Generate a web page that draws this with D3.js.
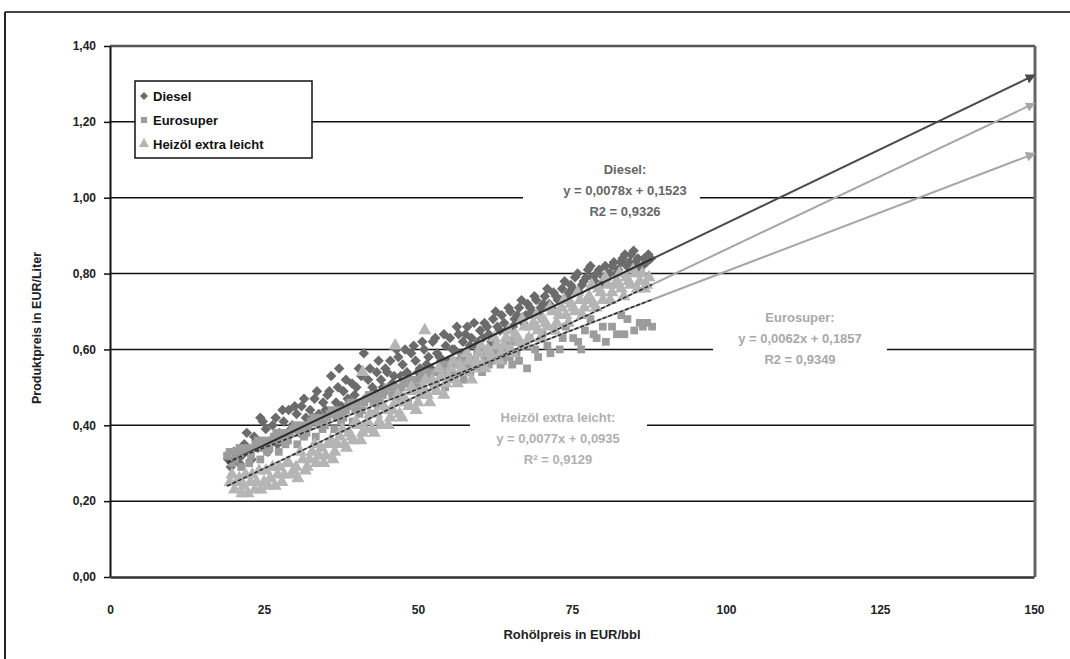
<!DOCTYPE html>
<html>
<head>
<meta charset="utf-8">
<script src="https://cdn.jsdelivr.net/npm/d3@7"></script>
<style>
  body { margin: 0; background: #fff; }
  svg { font-family: "Liberation Sans", Arial, sans-serif; }
</style>
</head>
<body>
<div id="chart"></div>
<script>
// data: [crude price EUR/bbl, product price EUR/litre]
var dieselPoints = [
  [19.2,0.31],[20.1,0.33],[21.0,0.30],[21.8,0.35],[22.5,0.33],[23.4,0.37],[24.0,0.34],[24.8,0.41],
  [25.3,0.39],[26.1,0.36],[26.9,0.42],[27.5,0.38],[28.2,0.41],[29.0,0.44],[29.6,0.40],[30.3,0.43],
  [31.1,0.45],[31.8,0.42],[32.5,0.44],[33.2,0.47],[33.9,0.43],[34.6,0.46],[35.3,0.48],[35.9,0.53],
  [36.7,0.46],[37.2,0.55],[37.9,0.49],[38.6,0.47],[39.3,0.51],[40.0,0.50],[40.8,0.53],[41.2,0.59],
  [41.9,0.52],[42.6,0.50],[43.3,0.54],[44.0,0.52],[44.7,0.55],[45.5,0.57],[46.1,0.53],[46.8,0.58],
  [47.5,0.56],[48.2,0.54],[48.9,0.59],[49.6,0.57],[50.3,0.55],[51.0,0.60],[51.7,0.58],[52.4,0.62],
  [53.1,0.59],[53.8,0.57],[54.5,0.61],[55.2,0.63],[55.9,0.60],[56.6,0.64],[57.3,0.62],[58.0,0.66],
  [58.7,0.63],[59.4,0.61],[60.1,0.65],[60.8,0.67],[61.5,0.64],[62.2,0.68],[62.9,0.66],[63.6,0.69],
  [64.3,0.65],[65.0,0.70],[65.7,0.68],[66.4,0.71],[67.1,0.67],[67.8,0.72],[68.5,0.70],[69.2,0.73],
  [69.9,0.71],[70.6,0.74],[71.3,0.72],[72.0,0.75],[72.7,0.73],[73.4,0.76],[74.1,0.74],[74.8,0.77],
  [75.5,0.79],[76.2,0.75],[76.9,0.78],[77.6,0.81],[78.3,0.79],[79.0,0.80],[79.7,0.77],[80.4,0.82],
  [81.1,0.80],[81.8,0.83],[82.5,0.81],[83.2,0.84],[83.9,0.82],[84.6,0.85],[85.3,0.83],[86.0,0.81],
  [86.7,0.84],[87.4,0.85],
  [19.6,0.29],[20.5,0.31],[21.4,0.32],[22.2,0.38],[23.0,0.31],[23.8,0.36],[24.4,0.42],[25.6,0.33],
  [26.4,0.40],[27.2,0.35],[28.0,0.44],[28.7,0.37],[29.4,0.39],[30.0,0.45],[30.8,0.38],[31.5,0.47],
  [32.2,0.40],[32.9,0.42],[33.6,0.49],[34.3,0.41],[35.0,0.44],[35.6,0.49],[36.3,0.43],[37.0,0.50],
  [37.6,0.45],[38.3,0.52],[39.0,0.46],[39.7,0.48],[40.4,0.55],[41.5,0.47],[42.2,0.55],[42.9,0.49],
  [43.6,0.57],[44.3,0.50],[45.0,0.54],[45.8,0.51],[46.5,0.60],[47.2,0.53],[47.9,0.60],[48.6,0.52],
  [49.3,0.61],[50.0,0.54],[50.7,0.62],[51.4,0.56],[52.1,0.55],[52.8,0.63],[53.5,0.58],[54.2,0.64],
  [54.9,0.57],[55.6,0.60],[56.3,0.66],[57.0,0.59],[57.7,0.64],[58.4,0.61],[59.1,0.67],[59.8,0.62],
  [60.5,0.63],[61.2,0.66],[61.9,0.62],[62.6,0.70],[63.3,0.65],[64.0,0.67],[64.7,0.71],[65.4,0.66],
  [66.1,0.69],[66.8,0.73],[67.5,0.69],[68.2,0.71],[68.9,0.74],[69.6,0.69],[70.3,0.72],[71.0,0.76],
  [71.7,0.71],[72.4,0.74],[73.1,0.73],[73.8,0.78],[74.5,0.75],[75.2,0.76],[75.9,0.80],[76.6,0.77],
  [77.3,0.79],[78.0,0.82],[78.7,0.78],[79.4,0.81],[80.1,0.79],[80.8,0.80],[81.5,0.82],[82.2,0.80],
  [82.9,0.83],[83.6,0.85],[84.3,0.83],[85.0,0.86],[85.7,0.84],[86.4,0.82],[87.1,0.83],[87.8,0.84]
];

var eurosuperPoints = [
  [19.0,0.32],[19.8,0.30],[20.6,0.33],[21.3,0.29],[22.1,0.34],[22.9,0.32],[23.6,0.35],[24.4,0.31],
  [25.1,0.36],[25.9,0.34],[26.6,0.37],[27.4,0.33],[28.1,0.38],[28.9,0.36],[29.6,0.39],[30.4,0.35],
  [31.1,0.40],[31.9,0.38],[32.6,0.41],[33.4,0.37],[34.1,0.42],[34.9,0.40],[35.6,0.43],[36.4,0.39],
  [37.1,0.44],[37.9,0.42],[38.6,0.45],[39.4,0.41],[40.1,0.46],[40.9,0.44],[41.6,0.47],[42.4,0.43],
  [43.1,0.48],[43.9,0.46],[44.6,0.49],[45.4,0.44],[46.1,0.50],[46.9,0.48],[47.6,0.51],[48.4,0.46],
  [49.1,0.52],[49.9,0.50],[50.6,0.53],[51.4,0.48],[52.1,0.54],[52.9,0.51],[53.6,0.55],[54.4,0.50],
  [55.1,0.56],[55.9,0.53],[56.6,0.57],[57.4,0.52],[58.1,0.58],[58.9,0.55],[59.6,0.59],[60.4,0.54],
  [61.1,0.60],[61.9,0.57],[62.6,0.61],[63.4,0.56],[64.1,0.60],[64.9,0.58],[65.6,0.62],[66.4,0.57],
  [67.7,0.55],[68.1,0.63],[69.0,0.60],[70.2,0.64],[71.0,0.61],[72.1,0.65],[73.0,0.60],[74.0,0.66],
  [75.2,0.63],[76.0,0.62],[77.1,0.65],[78.0,0.68],[79.0,0.63],[80.0,0.66],[81.5,0.66],[82.3,0.64],
  [83.0,0.69],[84.0,0.68],[85.1,0.65],[86.0,0.67],[87.2,0.67],[88.0,0.66],
  [19.4,0.33],[20.3,0.31],[21.0,0.34],[21.8,0.33],[22.6,0.30],[23.3,0.34],[24.0,0.36],[24.8,0.34],
  [25.5,0.33],[26.3,0.36],[27.0,0.38],[27.8,0.36],[28.5,0.35],[29.3,0.38],[30.0,0.40],[30.8,0.38],
  [31.5,0.37],[32.3,0.40],[33.0,0.42],[33.8,0.40],[34.5,0.39],[35.3,0.42],[36.0,0.44],[36.8,0.42],
  [37.5,0.41],[38.3,0.44],[39.0,0.46],[39.8,0.44],[40.5,0.43],[41.3,0.46],[42.0,0.48],[42.8,0.46],
  [43.5,0.45],[44.3,0.48],[45.0,0.50],[45.8,0.48],[46.5,0.47],[47.3,0.50],[48.0,0.52],[48.8,0.50],
  [49.5,0.49],[50.3,0.52],[51.0,0.54],[51.8,0.52],[52.5,0.51],[53.3,0.54],[54.0,0.56],[54.8,0.54],
  [55.5,0.53],[56.3,0.56],[57.0,0.58],[57.8,0.56],[58.5,0.54],[59.3,0.57],[60.0,0.59],[60.8,0.58],
  [61.5,0.56],[62.3,0.59],[63.0,0.60],[63.8,0.57],[64.5,0.62],[65.3,0.56],[66.0,0.59],[66.8,0.61],
  [69.5,0.58],[71.5,0.59],[73.5,0.63],[76.5,0.60],[78.5,0.64],[80.5,0.62],[83.5,0.64],[86.5,0.66]
];

var heizoelPoints = [
  [19.5,0.25],[20.2,0.23],[21.0,0.26],[21.7,0.24],[22.4,0.22],[23.1,0.27],[23.8,0.25],[24.5,0.23],
  [25.3,0.28],[26.0,0.26],[26.8,0.24],[27.5,0.29],[28.3,0.27],[29.0,0.30],[29.8,0.28],[30.5,0.26],
  [31.3,0.31],[32.0,0.29],[32.8,0.33],[33.5,0.30],[34.3,0.34],[35.0,0.32],[35.8,0.36],[36.5,0.33],
  [37.3,0.37],[38.0,0.35],[38.8,0.38],[39.5,0.36],[40.3,0.40],[41.0,0.54],[41.0,0.38],[41.8,0.41],
  [42.5,0.39],[43.3,0.43],[44.0,0.40],[44.8,0.44],[45.5,0.42],[46.3,0.61],[46.3,0.46],[47.0,0.43],
  [47.8,0.47],[48.5,0.45],[49.3,0.49],[50.0,0.46],[50.8,0.50],[51.1,0.65],[51.5,0.48],[52.3,0.52],
  [53.0,0.49],[53.8,0.53],[54.5,0.51],[55.3,0.55],[56.0,0.52],[56.8,0.56],[57.5,0.54],[58.3,0.57],
  [59.0,0.55],[59.8,0.59],[60.5,0.56],[61.3,0.60],[62.0,0.58],[62.8,0.61],[63.5,0.59],[64.3,0.63],
  [65.0,0.60],[65.8,0.64],[66.5,0.62],[67.3,0.66],[68.0,0.63],[68.8,0.67],[69.5,0.65],[70.3,0.68],
  [71.0,0.66],[71.8,0.70],[72.5,0.67],[73.3,0.71],[74.0,0.69],[74.8,0.72],[75.5,0.70],[76.3,0.73],
  [77.0,0.71],[77.8,0.74],[78.5,0.72],[79.3,0.76],[80.0,0.73],[80.8,0.77],[81.5,0.75],[82.3,0.78],
  [83.0,0.76],[83.8,0.79],[84.5,0.77],[85.3,0.80],[86.0,0.78],[86.8,0.76],[87.5,0.79],
  [19.8,0.27],[20.6,0.25],[21.4,0.22],[22.0,0.27],[22.8,0.25],[23.5,0.23],[24.2,0.28],[25.0,0.25],
  [25.7,0.24],[26.4,0.29],[27.2,0.27],[27.9,0.25],[28.7,0.30],[29.4,0.27],[30.2,0.29],[30.9,0.33],
  [31.7,0.28],[32.4,0.31],[33.2,0.35],[33.9,0.32],[34.7,0.30],[35.4,0.35],[36.2,0.31],[36.9,0.35],
  [37.7,0.39],[38.4,0.34],[39.2,0.37],[39.9,0.41],[40.7,0.36],[41.4,0.39],[42.2,0.43],[42.9,0.38],
  [43.7,0.41],[44.4,0.45],[45.2,0.40],[45.9,0.44],[46.7,0.48],[47.4,0.42],[48.2,0.46],[48.9,0.50],
  [49.7,0.44],[50.4,0.48],[51.2,0.52],[51.9,0.46],[52.7,0.50],[53.4,0.55],[54.2,0.48],[54.9,0.53],
  [55.7,0.57],[56.4,0.51],[57.2,0.55],[57.9,0.59],[58.7,0.52],[59.4,0.57],[60.2,0.61],[60.9,0.55],
  [61.7,0.59],[62.4,0.63],[63.2,0.57],[63.9,0.61],[64.7,0.65],[65.4,0.59],[66.2,0.63],[66.9,0.68],
  [67.7,0.61],[68.4,0.66],[69.2,0.69],[69.9,0.63],[70.7,0.67],[71.4,0.71],[72.2,0.65],[72.9,0.69],
  [73.7,0.73],[74.4,0.67],[75.2,0.71],[75.9,0.75],[76.7,0.69],[77.4,0.73],[78.2,0.77],[78.9,0.71],
  [79.7,0.75],[80.4,0.79],[81.2,0.73],[81.9,0.77],[82.7,0.80],[83.4,0.74],[84.2,0.78],[84.9,0.81],
  [85.6,0.76],[86.4,0.80],[87.1,0.77]
];

// trendlines as given on the chart: slope, intercept
var seriesNames = ["Diesel", "Eurosuper", "Heizöl extra leicht"];
var trendSlopes = [0.0078, 0.0062, 0.0077];
var trendIntercepts = [0.1523, 0.1857, 0.0935];
var trendLabels = [
  ["Diesel:", "y = 0,0078x + 0,1523", "R2 = 0,9326"],
  ["Eurosuper:", "y = 0,0062x + 0,1857", "R2 = 0,9349"],
  ["Heizöl extra leicht:", "y = 0,0077x + 0,0935", "R² = 0,9129"]
];
var xTicks = [0, 25, 50, 75, 100, 125, 150];
var yTicks = [0, 0.2, 0.4, 0.6, 0.8, 1.0, 1.2, 1.4];

var svgWidth = 1070;
var svgHeight = 659;

var svg = d3.select("#chart")
    .append("svg")
    .attr("width", svgWidth)
    .attr("height", svgHeight);

var x = d3.scaleLinear().domain([0, 150]).range([110, 1034]);
var y = d3.scaleLinear().domain([0, 1.4]).range([577, 46]);

var commaFmt = function (v) { return d3.format(".2f")(v).replace(".", ","); };

// outer page frame
svg.append("line").attr("x1", 5).attr("x2", 1070).attr("y1", 12).attr("y2", 12)
    .attr("stroke", "#444").attr("stroke-width", 2);
svg.append("line").attr("x1", 5).attr("x2", 5).attr("y1", 12).attr("y2", 659)
    .attr("stroke", "#222").attr("stroke-width", 2);

// arrow markers
var defs = svg.append("defs");
var lineColors = ["#4a4a4a", "#a6a6a6", "#a6a6a6"];
lineColors.forEach(function (c, i) {
    defs.append("marker")
        .attr("id", "arrow" + i)
        .attr("viewBox", "0 0 10 10")
        .attr("refX", 8).attr("refY", 5)
        .attr("markerWidth", 5).attr("markerHeight", 5)
        .attr("orient", "auto")
        .append("path")
        .attr("d", "M0,0 L10,5 L0,10 z")
        .attr("fill", c);
});

// gridlines
svg.append("g")
    .selectAll("line")
    .data(yTicks.filter(function (d) { return d > 0 && d < 1.4; }))
    .enter()
    .append("line")
    .attr("x1", x(0)).attr("x2", x(150))
    .attr("y1", function (d) { return y(d); })
    .attr("y2", function (d) { return y(d); })
    .attr("stroke", "#111").attr("stroke-width", 1.5);

// plot border top / right
svg.append("line").attr("x1", x(0)).attr("x2", x(150) + 1).attr("y1", y(1.4)).attr("y2", y(1.4))
    .attr("stroke", "#555").attr("stroke-width", 2.5);
svg.append("line").attr("x1", x(150) + 1).attr("x2", x(150) + 1).attr("y1", y(1.4)).attr("y2", y(0))
    .attr("stroke", "#666").attr("stroke-width", 3);

// scatter points (diesel diamond = square turned 45deg)
var sym = [d3.symbolSquare, d3.symbolSquare, d3.symbolTriangle];
var symRot = [45, 0, 0];
var symSize = [55, 60, 75];
var pointColors = ["#6b6b6b", "#9c9c9c", "#b5b5b5"];
var allPoints = [dieselPoints, eurosuperPoints, heizoelPoints];

allPoints.forEach(function (pts, i) {
    svg.append("g")
        .selectAll("path")
        .data(pts)
        .enter()
        .append("path")
        .attr("d", d3.symbol().type(sym[i]).size(symSize[i]))
        .attr("transform", function (d) {
            return "translate(" + x(d[0]) + "," + y(d[1]) + ") rotate(" + symRot[i] + ")";
        })
        .attr("fill", pointColors[i]);
});

// trendlines: forecast to 150 with arrow, dark part over the data range
var trendLine = d3.line()
    .x(function (d) { return x(d[0]); })
    .y(function (d) { return y(d[1]); });

[0, 2, 1].forEach(function (i) {
    var f = function (v) { return trendSlopes[i] * v + trendIntercepts[i]; };
    svg.append("path")
        .attr("d", trendLine([[19, f(19)], [150, f(150)]]))
        .attr("fill", "none")
        .attr("stroke", lineColors[i])
        .attr("stroke-width", 2)
        .attr("marker-end", "url(#arrow" + i + ")");
    svg.append("path")
        .attr("d", trendLine([[19, f(19)], [88, f(88)]]))
        .attr("fill", "none")
        .attr("stroke", "#2a2a2a")
        .attr("stroke-width", 1.5)
        .attr("stroke-dasharray", i === 0 ? null : "4,2");
});

// axes
var leftAxis = d3.axisLeft(y).tickValues(yTicks).tickFormat(commaFmt).tickSize(6).tickSizeOuter(0);
var bottomAxis = d3.axisBottom(x).tickValues(xTicks).tickFormat(d3.format("d")).tickSize(0).tickPadding(28);

var gy = svg.append("g").attr("transform", "translate(" + x(0) + ",0)").call(leftAxis);
gy.select(".domain").attr("stroke", "#111").attr("stroke-width", 2);
gy.selectAll(".tick line").attr("stroke", "#111").attr("stroke-width", 1.5);
gy.selectAll("text").attr("font-size", "12px").attr("font-weight", "bold").attr("fill", "#222")
    .attr("x", -14);

var gx = svg.append("g").attr("transform", "translate(0," + y(0) + ")").call(bottomAxis);
gx.select(".domain").attr("stroke", "#333").attr("stroke-width", 2.5);
gx.selectAll("text").attr("font-size", "12px").attr("font-weight", "bold").attr("fill", "#222");

// axis titles
svg.append("text")
    .attr("transform", "translate(41,328) rotate(-90)")
    .attr("text-anchor", "middle")
    .attr("font-size", "12.5px").attr("font-weight", "bold").attr("fill", "#222")
    .text("Produktpreis in EUR/Liter");

svg.append("text")
    .attr("x", 572).attr("y", 639)
    .attr("text-anchor", "middle")
    .attr("font-size", "13px").attr("font-weight", "bold").attr("fill", "#222")
    .text("Rohölpreis in EUR/bbl");

// trendline annotations
var labelPos = [[625, 170], [800, 318], [558, 418]];
var labelBox = [[523, 700], [713, 887], [470, 647]];
var labelColors = ["#666", "#a8a8a8", "#b0b0b0"];
trendLabels.forEach(function (lines, i) {
    var g = svg.append("g");
    g.append("rect")
        .attr("x", labelBox[i][0]).attr("y", labelPos[i][1] - 15)
        .attr("width", labelBox[i][1] - labelBox[i][0]).attr("height", 64)
        .attr("fill", "#fff");
    g.selectAll("text")
        .data(lines)
        .enter()
        .append("text")
        .attr("x", labelPos[i][0])
        .attr("y", function (d, k) { return labelPos[i][1] + k * 21 + 4; })
        .attr("text-anchor", "middle")
        .attr("font-size", "13px").attr("font-weight", "bold")
        .attr("fill", labelColors[i])
        .text(function (d) { return d; });
});

// legend
var legend = svg.append("g");
legend.append("rect")
    .attr("x", 135).attr("y", 81).attr("width", 177).attr("height", 77)
    .attr("fill", "#fff").attr("stroke", "#111").attr("stroke-width", 1.5);
seriesNames.forEach(function (name, i) {
    var ly = 97 + i * 24;
    legend.append("path")
        .attr("d", d3.symbol().type(sym[i]).size(symSize[i] * 0.6))
        .attr("transform", "translate(144," + (ly - 1) + ") rotate(" + symRot[i] + ")")
        .attr("fill", pointColors[i]);
    legend.append("text")
        .attr("x", 153).attr("y", ly + 4)
        .attr("font-size", "13px").attr("font-weight", "bold").attr("fill", "#111")
        .text(name);
});
</script>
</body>
</html>
